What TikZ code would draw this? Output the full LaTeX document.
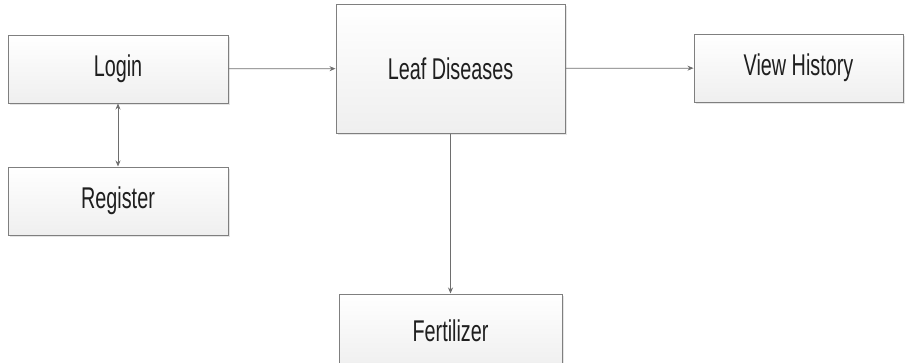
\documentclass[tikz,border=0pt]{standalone}
\usepackage{fontspec}
\setmainfont{Liberation Sans}[FakeStretch=0.66]
\usepackage{tikz}
\usetikzlibrary{arrows.meta,shadows}
\definecolor{boxline}{HTML}{7F7F7F}
\definecolor{boxfill}{HTML}{EFEFEF}
\definecolor{arrowline}{HTML}{6E6E6E}

\begin{document}
\begin{tikzpicture}[x=1pt, y=-1pt,
		box_style/.style={rectangle,draw=boxline,line width=1pt,top color=white,bottom color=boxfill,
			drop shadow={shadow xshift=1.5pt,shadow yshift=-1.5pt,fill=black!20},
			font=\fontsize{30}{32}\selectfont,text=black!88},
		edge_style/.style={draw=arrowline,line width=0.8pt,-{Stealth[length=6pt,width=5pt]}}]

	\clip (0,0) rectangle (907,362);
	\useasboundingbox (0,0) rectangle (907,362);

	\node[box_style,minimum width=220pt,minimum height=68pt] (login) at (118,69) {Login};
	\node[box_style,minimum width=220pt,minimum height=68pt] (reg) at (118,201) {Register};
	\node[box_style,minimum width=229pt,minimum height=129pt] (leaf) at (450.5,68.5) {Leaf Diseases};
	\node[box_style,minimum width=209pt,minimum height=68pt] (hist) at (798.5,68) {View History};
	\node[box_style,minimum width=223pt,minimum height=74pt] (fert) at (450.5,331) {Fertilizer};

	\draw[edge_style]  (login) -- (leaf);
	\draw[edge_style]  (leaf) -- (hist);
	\draw[edge_style]  (leaf) -- (fert);
	\draw[edge_style,{Stealth[length=6pt,width=5pt]}-{Stealth[length=6pt,width=5pt]}]  (login) -- (reg);
\end{tikzpicture}
\end{document}
